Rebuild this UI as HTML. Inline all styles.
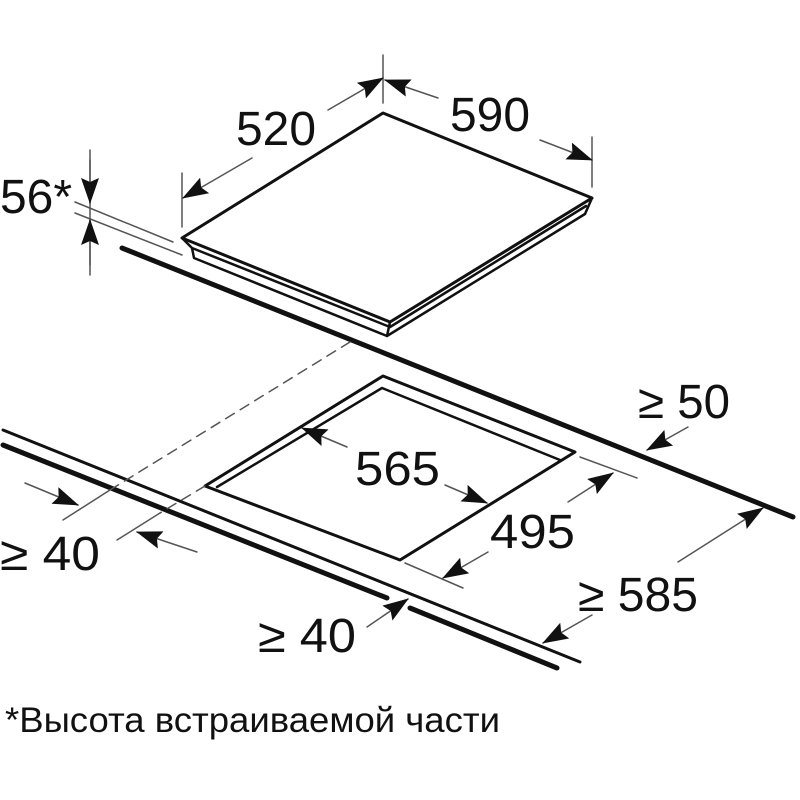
<!DOCTYPE html>
<html><head><meta charset="utf-8"><style>
html,body{margin:0;padding:0;background:#fff;width:800px;height:800px;overflow:hidden}
text{font-family:"Liberation Sans",sans-serif;fill:#111}
</style></head><body>
<svg width="800" height="800" viewBox="0 0 800 800" xmlns="http://www.w3.org/2000/svg">
<defs>
<marker id="a" markerWidth="26" markerHeight="18" refX="25" refY="9" orient="auto" markerUnits="userSpaceOnUse">
<path d="M0,0 L26,9 L0,18 L4,9 Z" fill="#111"/></marker>
</defs>
<g fill="none" stroke="#111" stroke-linecap="round" stroke-linejoin="round">
<path d="M182,238 L383,113 L592,198 L390,322 Z" stroke-width="3"/>
<path d="M182,238 L192,248 L194,258 L387,336 L390,322 M192,248 L390,327 M387,336 L585,214 L592,198 M390,327 L586,206" stroke-width="2.5"/>
<line x1="122" y1="248" x2="793" y2="517" stroke-width="5"/>
<line x1="3" y1="430" x2="580" y2="662" stroke-width="3"/>
<line x1="3" y1="445" x2="387" y2="598" stroke-width="5"/>
<line x1="410" y1="608" x2="557" y2="668" stroke-width="5"/>
<path d="M205,486 L383,376 L575,452 L400,560 Z" stroke-width="3"/>
<path d="M217,487 L382,388 L560,460" stroke-width="2.5"/>
<line x1="350" y1="342" x2="110" y2="490" stroke-width="1.5" stroke-dasharray="10,7" stroke="#555"/>
<line x1="110" y1="490" x2="63" y2="520" stroke-width="1.5" stroke="#555"/>
<line x1="205" y1="486" x2="160" y2="513" stroke-width="1.5" stroke-dasharray="10,7" stroke="#555"/>
<line x1="160" y1="513" x2="117" y2="540" stroke-width="1.5" stroke="#555"/>
<g stroke-width="1.5" stroke="#555">
<line x1="383" y1="55" x2="383" y2="103"/>
<line x1="182" y1="173" x2="182" y2="227"/>
<line x1="592" y1="137" x2="592" y2="187"/>
<line x1="75" y1="202" x2="173" y2="242"/>
<line x1="75" y1="213" x2="182" y2="255"/>
<line x1="90" y1="150" x2="90" y2="275"/>
<line x1="580" y1="457" x2="637" y2="478"/>
<line x1="405" y1="563" x2="463" y2="588"/>
</g>
<g stroke-width="1.5" stroke="#555" marker-end="url(#a)">
<line x1="328" y1="110" x2="383" y2="78"/>
<line x1="252" y1="158" x2="183" y2="198"/>
<line x1="438" y1="98" x2="385" y2="80"/>
<line x1="540" y1="140" x2="592" y2="160"/>
<line x1="90" y1="160" x2="90" y2="203"/>
<line x1="90" y1="265" x2="90" y2="220"/>
<line x1="25" y1="483" x2="78" y2="505"/>
<line x1="197" y1="552" x2="137" y2="532"/>
<line x1="367" y1="627" x2="408" y2="599"/>
<line x1="347" y1="447" x2="302" y2="428"/>
<line x1="445" y1="485" x2="487" y2="503"/>
<line x1="568" y1="502" x2="613" y2="473"/>
<line x1="488" y1="552" x2="443" y2="578"/>
<line x1="688" y1="427" x2="647" y2="450"/>
<line x1="678" y1="562" x2="763" y2="508"/>
<line x1="592" y1="615" x2="543" y2="643"/>
</g>
</g>
<g font-size="48">
<text x="236" y="145" textLength="80" lengthAdjust="spacingAndGlyphs">520</text>
<text x="450" y="131" textLength="80" lengthAdjust="spacingAndGlyphs">590</text>
<text x="0" y="213" textLength="72" lengthAdjust="spacingAndGlyphs">56*</text>
<text x="355" y="485" textLength="85" lengthAdjust="spacingAndGlyphs">565</text>
<text x="490" y="548" textLength="85" lengthAdjust="spacingAndGlyphs">495</text>
<text x="638" y="418" textLength="92" lengthAdjust="spacingAndGlyphs">≥ 50</text>
<text x="0" y="570" textLength="100" lengthAdjust="spacingAndGlyphs">≥ 40</text>
<text x="258" y="652" textLength="98" lengthAdjust="spacingAndGlyphs">≥ 40</text>
<text x="578" y="611" textLength="120" lengthAdjust="spacingAndGlyphs">≥ 585</text>
</g>
<text x="5" y="732" font-size="35" textLength="495" lengthAdjust="spacingAndGlyphs">*Высота встраиваемой части</text>
</svg>
</body></html>
